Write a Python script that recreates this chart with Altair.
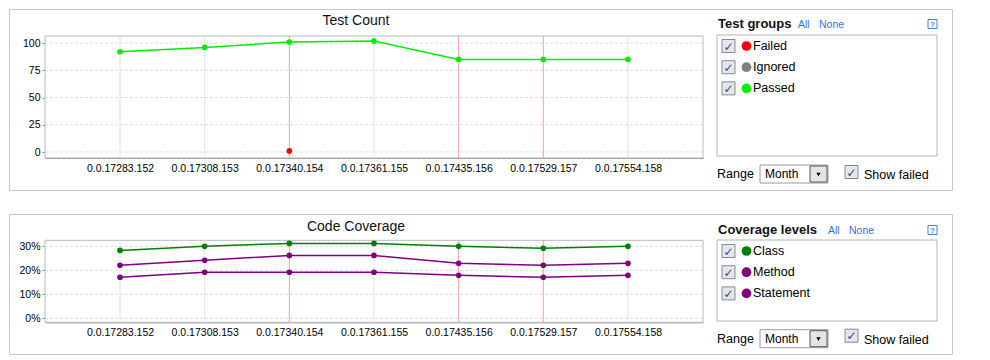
import altair as alt
import pandas as pd

# ---------------- data ----------------
builds = ["0.0.17283.152", "0.0.17308.153", "0.0.17340.154", "0.0.17361.155",
          "0.0.17435.156", "0.0.17529.157", "0.0.17554.158"]
failed_builds = ["0.0.17340.154", "0.0.17435.156", "0.0.17529.157"]

test_groups = ["Failed", "Ignored", "Passed"]
passed_counts = [92, 96, 101, 102, 85, 85, 85]
failed_count_builds = ["0.0.17340.154"]
failed_counts = [1]
test_ticks = [0, 25, 50, 75, 100]

coverage_levels = ["Class", "Method", "Statement"]
class_cov = [28.3, 30.0, 31.2, 31.2, 30.0, 29.2, 30.0]
method_cov = [22.1, 24.2, 26.2, 26.2, 22.9, 22.1, 22.9]
statement_cov = [17.1, 19.2, 19.2, 19.2, 17.9, 17.1, 17.9]
cov_ticks = [0, 10, 20, 30]

# ---------------- styling ----------------
W = 943
PX0, PX1 = 36, 694
FONT = "Liberation Sans"
test_colors = ["#ff0000", "#808080", "#00ee00"]
cov_colors = ["#008000", "#800080", "#800080"]

one = pd.DataFrame({"k": [0]})


def rect(x1, x2, y1, y2, fill="white", stroke="#b4b4b4", sw=1):
    return alt.Chart(one).mark_rect(fill=fill, stroke=stroke, strokeWidth=sw).encode(
        x=alt.value(x1), x2=alt.value(x2), y=alt.value(y1), y2=alt.value(y2))


def text(x, y, txt, size=12.5, color="#000", weight="normal", font=FONT, align="left"):
    return alt.Chart(one).mark_text(align=align, baseline="middle", font=font, fontSize=size,
                                    color=color, fontWeight=weight).encode(
        x=alt.value(x), y=alt.value(y), text=alt.value(txt))


def checkbox(x, yc):
    return [
        rect(x, x + 13, yc - 6.5, yc + 6.5, fill="#e4e6ea", stroke="#85898f"),
        text(x + 6.5, yc + 0.5, "✓", size=12, color="#30478a", weight="bold",
             font="DejaVu Sans", align="center"),
    ]


def make_row(H, ptop, pbot, ydomain, yticks, label_expr, series, groups, colors,
             title, side_title, inner_bottom, range_y, show_y_off, title_y, side_y):
    xscale = alt.Scale(type="point", domain=builds, range=[PX0, PX1], padding=0.886)
    yscale = alt.Scale(domain=ydomain, range=[pbot, ptop], nice=False, zero=False)
    xaxis = alt.Axis(title=None, ticks=False, grid=False, domainColor="#8a8a8a",
                     labelAngle=0, labelFont=FONT, labelFontSize=10.5, labelColor="#000",
                     labelPadding=5, offset=-(H - pbot))
    yaxis = alt.Axis(title=None, values=yticks, grid=False, domainColor="#8a8a8a",
                     tickColor="#8a8a8a", tickSize=3, labelFont=FONT, labelFontSize=10.5,
                     labelColor="#000", labelPadding=2, offset=-PX0, labelExpr=label_expr)
    color = alt.Color("group:N", scale=alt.Scale(domain=groups, range=colors), legend=None)

    plotbox = rect(PX0, PX1, ptop, pbot, stroke="#b8b8b8")
    hgrid = alt.Chart(pd.DataFrame({"v": yticks})).mark_rule(
        color="#dcdcdc", strokeDash=[3, 2], strokeWidth=1).encode(
        y=alt.Y("v:Q", scale=yscale, axis=yaxis), x=alt.value(PX0), x2=alt.value(PX1))
    vgrid = alt.Chart(pd.DataFrame({"build": builds})).mark_rule(strokeWidth=1).encode(
        x=alt.X("build:N", scale=xscale, axis=xaxis),
        y=alt.value(ptop), y2=alt.value(pbot),
        color=alt.condition(alt.FieldOneOfPredicate(field="build", oneOf=failed_builds),
                            alt.value("#f3a3a3"), alt.value("#e2e2e2")))
    lines = alt.Chart(series).mark_line(strokeWidth=1.5).encode(
        x=alt.X("build:N", scale=xscale, axis=xaxis),
        y=alt.Y("value:Q", scale=yscale, axis=yaxis), color=color, detail="group:N")
    pts = alt.Chart(series).mark_point(filled=True, size=32, opacity=1).encode(
        x=alt.X("build:N", scale=xscale, axis=xaxis),
        y=alt.Y("value:Q", scale=yscale, axis=yaxis), color=color)

    layers = [plotbox, hgrid, vgrid, lines, pts]
    layers.append(text((PX0 + PX1) / 2 - 18, title_y, title, size=14, color="#111", align="center"))

    # side panel
    layers.append(text(709, side_y, side_title, size=13, weight="bold", color="#111"))
    tw = 80 if side_title == "Test groups" else 110
    layers.append(text(709 + tw, side_y + 0.5, "All", size=10.5, color="#3a6fd0"))
    layers.append(text(709 + tw + 21, side_y + 0.5, "None", size=10.5, color="#3a6fd0"))
    layers.append(rect(919, 928, side_y - 4.5, side_y + 4.5, stroke="#4a7fd6"))
    layers.append(text(923.5, side_y + 0.5, "?", size=8, color="#4a7fd6", weight="bold",
                       align="center"))
    layers.append(rect(708, 928, 26, inner_bottom, stroke="#b4b4b4"))
    for i, (g, c) in enumerate(zip(groups, colors)):
        yc = 37 + 21.2 * i
        layers += checkbox(713, yc)
        layers.append(alt.Chart(one).mark_point(filled=True, size=95, color=c, opacity=1).encode(
            x=alt.value(737.5), y=alt.value(yc)))
        layers.append(text(744, yc, g, size=12.5))
    # range row
    layers.append(text(708, range_y, "Range", size=12.5))
    layers.append(rect(751, 819, range_y - 9, range_y + 9, stroke="#9a9a9a"))
    layers.append(text(756, range_y, "Month", size=12))
    layers.append(rect(801, 818, range_y - 8, range_y + 8, fill="#e4e4e4", stroke="#555"))
    layers.append(alt.Chart(one).mark_point(shape="triangle-down", filled=True, size=18,
                                            color="#000", opacity=1).encode(
        x=alt.value(809.5), y=alt.value(range_y + 0.5)))
    layers += checkbox(836, range_y + show_y_off)
    layers.append(text(855, range_y + 1, "Show failed", size=12.5))

    return alt.layer(*layers).properties(width=W, height=H)


test_df = pd.concat([
    pd.DataFrame({"build": builds, "group": "Passed", "value": passed_counts}),
    pd.DataFrame({"build": failed_count_builds, "group": "Failed", "value": failed_counts}),
])
cov_df = pd.concat([
    pd.DataFrame({"build": builds, "group": "Class", "value": class_cov}),
    pd.DataFrame({"build": builds, "group": "Method", "value": method_cov}),
    pd.DataFrame({"build": builds, "group": "Statement", "value": statement_cov}),
])

row1 = make_row(181, 27, 149, [-5.5, 106.5], test_ticks, "datum.label",
                test_df, test_groups, test_colors, "Test Count", "Test groups",
                147, 165, -2, 12, 15)
row2 = make_row(140, 26.3, 108.3, [-1.67, 32.5], cov_ticks, "datum.value + '%'",
                cov_df, coverage_levels, cov_colors, "Code Coverage", "Coverage levels",
                107, 124.7, -3, 12.5, 16)

chart = alt.vconcat(row1, row2, spacing=22).resolve_scale(
    color="independent", x="independent", y="independent"
).properties(
    padding={"left": 0, "top": 0, "right": 0, "bottom": 0},
    background="white",
).configure_view(stroke="#c8c8c8", strokeWidth=1)

chart.save("out.html", embed_options={"renderer": "svg", "actions": False})
